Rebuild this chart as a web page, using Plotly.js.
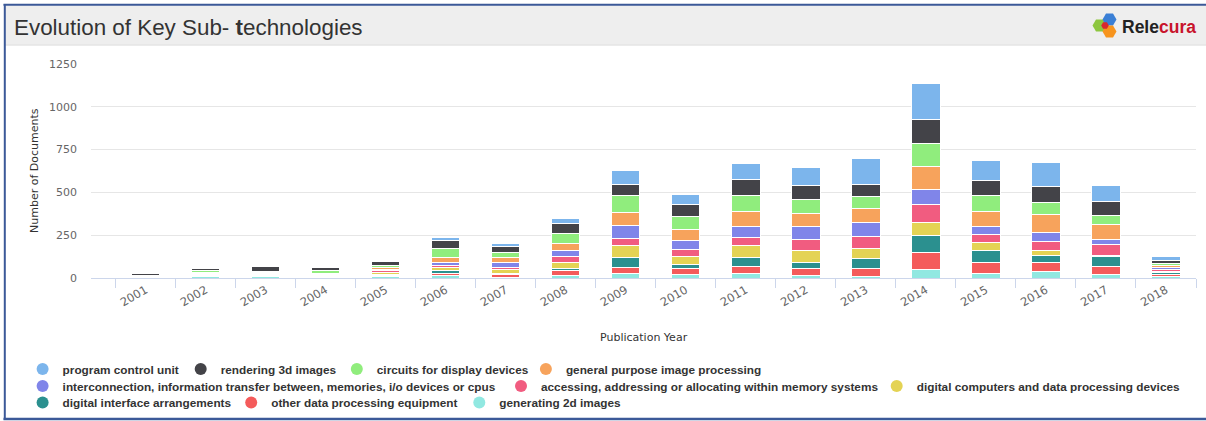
<!DOCTYPE html>
<html>
<head>
<meta charset="utf-8">
<script src="https://cdn.plot.ly/plotly-3.0.1.min.js"></script>
<style>
  html, body { margin: 0; padding: 0; background: #ffffff; }
  #chart { width: 1206px; height: 421px; }
</style>
</head>
<body>
<div id="chart"></div>
<script>
// ---------- DATA ----------
const years = ['2001','2002','2003','2004','2005','2006','2007','2008','2009','2010','2011','2012','2013','2014','2015','2016','2017','2018'];

const seriesNames = [
  'program control unit',
  'rendering 3d images',
  'circuits for display devices',
  'general purpose image processing',
  'interconnection, information transfer between, memories, i/o devices or cpus',
  'accessing, addressing or allocating within memory systems',
  'digital computers and data processing devices',
  'digital interface arrangements',
  'other data processing equipment',
  'generating 2d images'
];

const programControlUnit      = [1, 3, 3, 2, 3, 20, 21, 29, 82, 55, 90, 103, 152, 213, 121, 141, 97, 22];
const rendering3dImages       = [10, 10, 25, 16, 24, 45, 33, 60, 64, 70, 93, 80, 70, 141, 87, 94, 78, 18];
const circuitsForDisplay      = [2, 15, 5, 14, 12, 53, 31, 55, 102, 78, 93, 83, 72, 131, 91, 70, 55, 12];
const generalPurposeImage     = [2, 5, 5, 10, 12, 33, 29, 41, 76, 64, 88, 76, 78, 136, 88, 105, 86, 12];
const interconnection         = [2, 3, 4, 3, 4, 14, 27, 37, 77, 54, 68, 78, 83, 84, 45, 51, 29, 10];
const accessingMemory         = [2, 3, 4, 4, 12, 14, 14, 33, 37, 40, 43, 66, 71, 105, 51, 54, 64, 10];
const digitalComputers        = [2, 3, 4, 3, 12, 19, 23, 35, 72, 44, 70, 66, 60, 78, 44, 28, 8, 6];
const digitalInterface        = [2, 3, 4, 3, 7, 12, 8, 14, 59, 27, 51, 39, 59, 99, 73, 42, 55, 16];
const otherDataProcessing     = [2, 3, 4, 3, 7, 12, 14, 29, 35, 31, 43, 37, 44, 99, 62, 53, 49, 10];
const generating2dImages      = [2, 10, 10, 3, 6, 17, 4, 14, 25, 22, 27, 16, 10, 51, 27, 39, 21, 8];

const seriesValues = [programControlUnit, rendering3dImages, circuitsForDisplay, generalPurposeImage,
  interconnection, accessingMemory, digitalComputers, digitalInterface, otherDataProcessing, generating2dImages];

const colors = ['#7cb5ec','#434348','#90ed7d','#f7a35c','#8085e9','#f15c80','#e4d354','#2b908f','#f45b5b','#91e8e1'];

// ---------- LAYOUT GEOMETRY ----------
const W = 1206, H = 421, ML = 91, MR = 10, MT = 64, MB = 143;
const PW = W - ML - MR, PH = H - MT - MB;
const px = p => (p - ML) / PW;
const py = p => (H - MB - p) / PH;

// legend item positions (marker centre in px)
const legendPos = [
  [48.6, 369], [206.7, 369], [362.8, 369], [551.9, 369],
  [48.6, 386], [527, 386], [902.7, 386],
  [48.6, 402.5], [257.2, 402.5], [485.3, 402.5]
];

const traces = [];
// stacked bars: bottom series first
for (let i = seriesNames.length - 1; i >= 0; i--) {
  traces.push({
    type: 'bar',
    name: seriesNames[i],
    x: years,
    y: seriesValues[i],
    marker: { color: colors[i], line: { color: '#ffffff', width: 1 } },
    legendgroup: 'g' + i,
    showlegend: false,
    hovertemplate: '%{x}<br>' + seriesNames[i] + ': %{y}<extra></extra>'
  });
}
// legend entries (circle markers)
const legends = {};
for (let i = 0; i < seriesNames.length; i++) {
  const key = i === 0 ? 'legend' : 'legend' + (i + 1);
  traces.push({
    type: 'scatter', mode: 'markers',
    x: [null], y: [null],
    name: seriesNames[i],
    legend: key,
    legendgroup: 'g' + i,
    showlegend: true,
    marker: { color: colors[i], size: 12, symbol: 'circle' },
    hoverinfo: 'skip'
  });
  const [mx, my] = legendPos[i];
  legends[key] = {
    xref: 'container', yref: 'container',
    x: (mx - 26) / W, y: 1 - my / H,
    xanchor: 'left', yanchor: 'middle',
    orientation: 'h',
    bgcolor: 'rgba(0,0,0,0)', borderwidth: 0,
    font: { family: 'Liberation Sans, Arial, sans-serif', size: 11.8, color: '#333333', weight: 'bold' },
    itemsizing: 'trace'
  };
}

function hexPath(cx, cy, r) {
  let d = '';
  for (let k = 0; k < 6; k++) {
    const a = Math.PI / 180 * (60 * k);
    const X = px(cx + r * Math.cos(a)), Y = py(cy + r * Math.sin(a));
    d += (k === 0 ? 'M' : 'L') + X + ',' + Y + ' ';
  }
  return d + 'Z';
}

const shapes = [
  // title bar
  { type: 'rect', xref: 'paper', yref: 'paper', x0: px(5), x1: px(1206), y0: py(5), y1: py(44.5),
    fillcolor: '#eeeeee', line: { width: 0 }, layer: 'below' },
  { type: 'line', xref: 'paper', yref: 'paper', x0: px(5), x1: px(1206), y0: py(45), y1: py(45),
    line: { color: '#d8d8d8', width: 1 } },
  // frame
  { type: 'line', xref: 'paper', yref: 'paper', x0: px(3.5), x1: px(1206), y0: py(4.8), y1: py(4.8),
    line: { color: '#3b5998', width: 2 } },
  { type: 'line', xref: 'paper', yref: 'paper', x0: px(4.8), x1: px(4.8), y0: py(4), y1: py(420),
    line: { color: '#3b5998', width: 2 } },
  { type: 'line', xref: 'paper', yref: 'paper', x0: px(3.5), x1: px(1206), y0: py(419), y1: py(419),
    line: { color: '#3b5998', width: 2.5 } },
  // logo hexagons
  { type: 'path', xref: 'paper', yref: 'paper', path: hexPath(1099.5, 25.5, 7), fillcolor: '#8dc63f', line: { width: 0 } },
  { type: 'path', xref: 'paper', yref: 'paper', path: hexPath(1109.5, 19.5, 7), fillcolor: '#3a7fd5', line: { width: 0 } },
  { type: 'path', xref: 'paper', yref: 'paper', path: hexPath(1109.5, 31.5, 7), fillcolor: '#f7941d', line: { width: 0 } },
  { type: 'path', xref: 'paper', yref: 'paper', path: hexPath(1105, 25.5, 3.8), fillcolor: '#d9272e', line: { width: 0 } }
];

const annotations = [
  { xref: 'paper', yref: 'paper', x: px(1120), y: py(27), xanchor: 'left', yanchor: 'middle', showarrow: false,
    text: '<b><span style="color:#222222">Rele</span><span style="color:#c8142c">cura</span></b>',
    font: { family: 'Liberation Sans, Arial, sans-serif', size: 17.5 } },
  { xref: 'paper', yref: 'paper', x: 0.5, y: py(337), xanchor: 'center', yanchor: 'middle', showarrow: false,
    text: 'Publication Year', font: { family: 'DejaVu Sans, Verdana, sans-serif', size: 11, color: '#333333' } },
  { xref: 'paper', yref: 'paper', x: px(34), y: 0.5, xanchor: 'center', yanchor: 'middle', showarrow: false,
    textangle: -90, text: 'Number of Documents', font: { family: 'DejaVu Sans, Verdana, sans-serif', size: 11, color: '#333333' } }
];

const layout = Object.assign({
  width: W, height: H,
  margin: { l: ML, r: MR, t: MT, b: MB, pad: 0 },
  paper_bgcolor: '#ffffff', plot_bgcolor: '#ffffff',
  title: { text: 'Evolution of Key Sub- <b>t</b>echnologies', xref: 'container', yref: 'container',
    x: 14 / W, xanchor: 'left', y: 1 - 27 / H, yanchor: 'middle',
    font: { family: 'Liberation Sans, Arial, sans-serif', size: 22.4, color: '#333333' } },
  barmode: 'stack',
  bargap: 0.528,
  xaxis: {
    type: 'category', range: [-0.91, 17.5], fixedrange: true,
    tickangle: -30, tickfont: { family: 'DejaVu Sans, Verdana, sans-serif', size: 11.5, color: '#666666' },
    ticks: 'outside', ticklen: 9, tickcolor: '#ccd6eb', tickwidth: 1, tickson: 'boundaries',
    showline: true, linecolor: '#ccd6eb', linewidth: 1, showgrid: false, zeroline: false,
    automargin: false
  },
  yaxis: {
    range: [0, 1250], dtick: 250, tick0: 0, fixedrange: true,
    tickfont: { family: 'DejaVu Sans, Verdana, sans-serif', size: 11, color: '#666666' },
    gridcolor: '#e6e6e6', gridwidth: 1, zeroline: false, showline: false, ticks: '',
    ticklabelstandoff: 13, automargin: false
  },
  shapes: shapes,
  annotations: annotations,
  hovermode: 'closest'
}, legends);

Plotly.newPlot('chart', traces, layout, { displayModeBar: false, staticPlot: false });
</script>
</body>
</html>
